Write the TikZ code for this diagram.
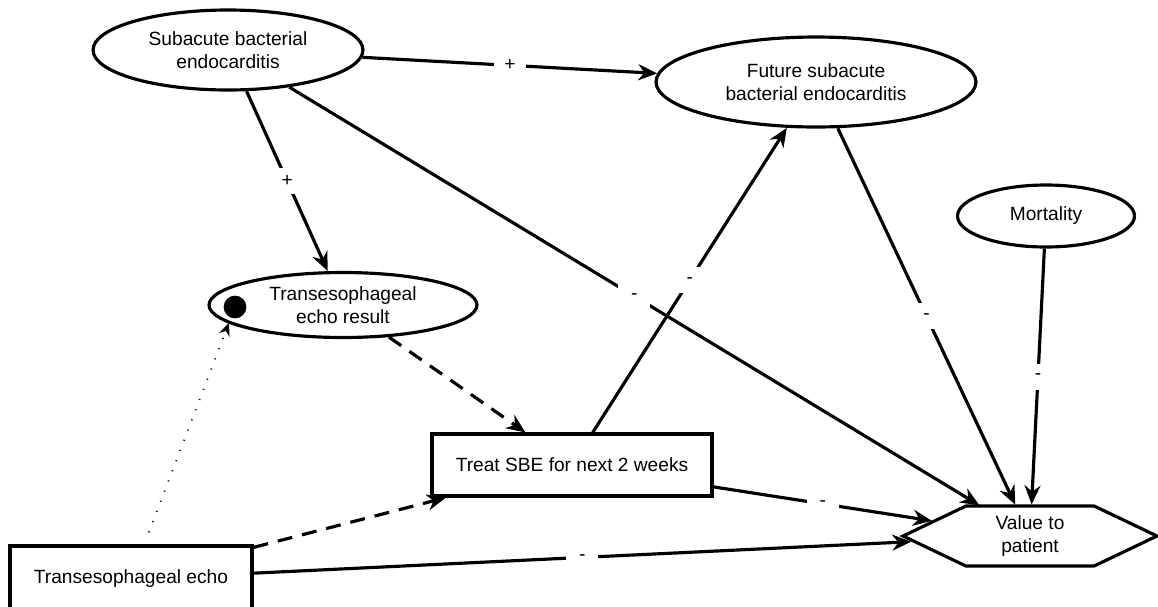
\documentclass[tikz,border=0pt]{standalone}
\usepackage{fontspec}
\setmainfont{Liberation Sans}
\usetikzlibrary{arrows.meta,shapes.geometric,shapes.symbols}

\begin{document}
\begin{tikzpicture}[x=0.02cm, y=-0.02cm,
    font=\fontsize{10.9}{13}\selectfont,
    chance/.style={ellipse, draw, line width=1.8pt, inner sep=1pt, align=center},
    decision/.style={rectangle, draw, line width=1.8pt, align=center},
    link/.style={line width=1.8pt, -{Stealth[length=0.38cm,width=0.32cm]}},
    sign/.style={fill=white, inner sep=0pt, minimum width=0.64cm, minimum height=0.52cm}]
  \useasboundingbox (0,0) rectangle (1158,606);

  % chance nodes
  \node[chance, minimum width=5.4cm, minimum height=1.6cm] (sbe) at (228,50) {Subacute bacterial\\endocarditis};
  \node[chance, minimum width=6.4cm, minimum height=1.8cm] (future) at (816,82) {Future subacute\\bacterial endocarditis};
  \node[chance, minimum width=5.36cm, minimum height=1.3cm] (result) at (343,305) {Transesophageal\\echo result};
  \node[chance, minimum width=3.54cm, minimum height=1.24cm] (mort) at (1046,216) {Mortality};
  \node[circle, draw, fill, inner sep=0pt, minimum size=0.44cm] (obs) at (235,307) {};

  % decisions and value
  \node[decision, minimum width=5.6cm, minimum height=1.24cm] (treat) at (572,465) {Treat SBE for next 2 weeks};
  \node[decision, minimum width=4.84cm, minimum height=1.32cm] (tee) at (131,579) {Transesophageal echo};
  \node[signal, signal to=west and east, signal pointer angle=51, draw, line width=1.8pt,
        inner sep=1pt, align=center, minimum width=5.08cm, minimum height=1.2cm] (value) at (1030,536) {Value to\\patient};

  % influences with sign
  \foreach \a/\b/\s in {sbe/future/+, sbe/result/+, sbe/value/-, future/value/-,
                        mort/value/-, treat/future/-, treat/value/-, tee/value/-}
    \draw[link] (\a) -- node[sign] {\s} (\b);

  % informational arcs
  \draw[link, dash pattern=on 0.3cm off 0.2cm] (result) -- (treat);
  \draw[link, dash pattern=on 0.3cm off 0.2cm] (tee) -- (treat);
  \draw[line width=1pt, dash pattern=on 0.6pt off 5.6pt, shorten <=0.26cm, shorten >=0.11cm,
        -{Stealth[length=0.26cm,width=0.22cm]}] (tee) -- (obs);
\end{tikzpicture}
\end{document}
